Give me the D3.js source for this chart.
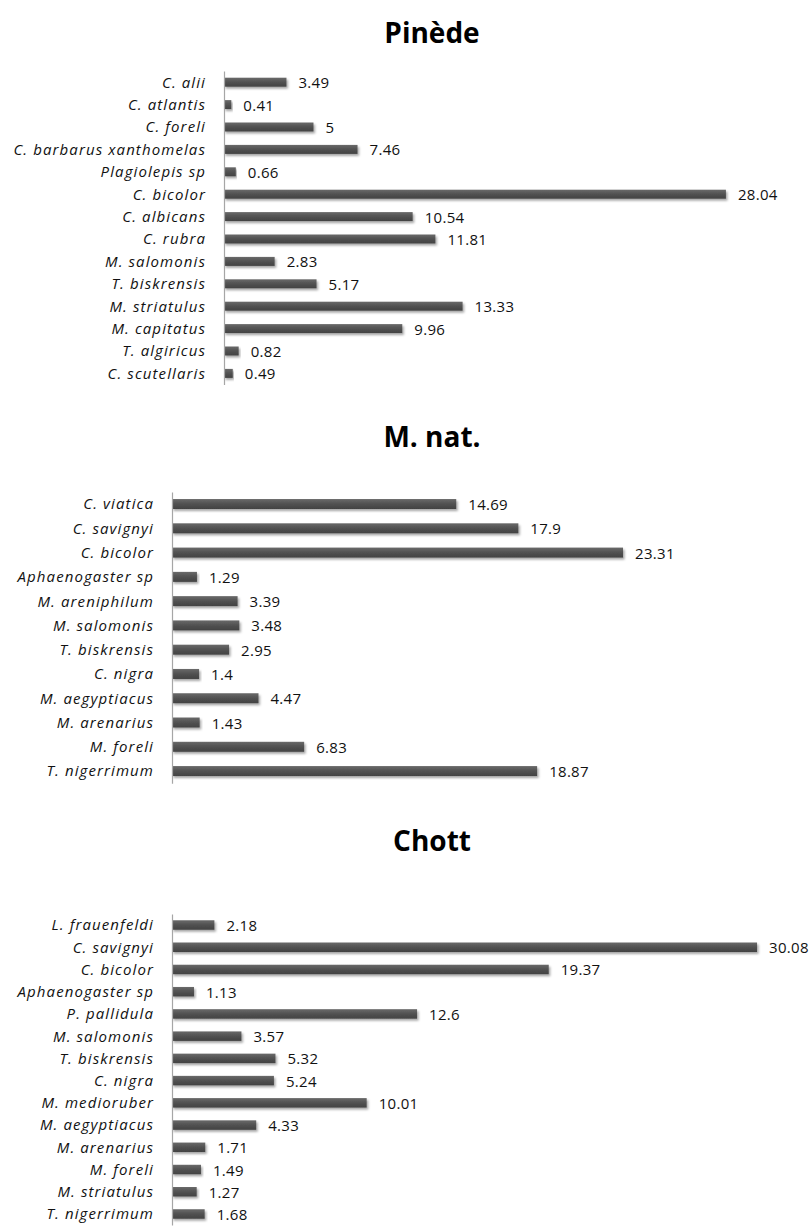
<!DOCTYPE html>
<html>
<head>
<meta charset="utf-8">
<script src="https://cdn.jsdelivr.net/npm/d3@7"></script>
<style>
  html, body { margin: 0; padding: 0; background: #fff; }
  svg { display: block; }
</style>
</head>
<body>
<script>
// Species frequencies (%) per habitat
const pinedeSpecies = ["C. alii", "C. atlantis", "C. foreli", "C. barbarus xanthomelas", "Plagiolepis sp",
  "C. bicolor", "C. albicans", "C. rubra", "M. salomonis", "T. biskrensis", "M. striatulus",
  "M. capitatus", "T. algiricus", "C. scutellaris"];
const pinedeValues = [3.49, 0.41, 5, 7.46, 0.66, 28.04, 10.54, 11.81, 2.83, 5.17, 13.33, 9.96, 0.82, 0.49];

const mnatSpecies = ["C. viatica", "C. savignyi", "C. bicolor", "Aphaenogaster sp", "M. areniphilum",
  "M. salomonis", "T. biskrensis", "C. nigra", "M. aegyptiacus", "M. arenarius", "M. foreli", "T. nigerrimum"];
const mnatValues = [14.69, 17.9, 23.31, 1.29, 3.39, 3.48, 2.95, 1.4, 4.47, 1.43, 6.83, 18.87];

const chottSpecies = ["L. frauenfeldi", "C. savignyi", "C. bicolor", "Aphaenogaster sp", "P. pallidula",
  "M. salomonis", "T. biskrensis", "C. nigra", "M. medioruber", "M. aegyptiacus", "M. arenarius",
  "M. foreli", "M. striatulus", "T. nigerrimum"];
const chottValues = [2.18, 30.08, 19.37, 1.13, 12.6, 3.57, 5.32, 5.24, 10.01, 4.33, 1.71, 1.49, 1.27, 1.68];

const panelTitles = ["Pinède", "M. nat.", "Chott"];

// Panel geometry
const panels = [
  { title: panelTitles[0], cats: pinedeSpecies, vals: pinedeValues, x0: 224, xMax: 30, x1: 224 + 30 * 17.9,
    y0: 71, y1: 384.6, titleY: 43, barH: 9 },
  { title: panelTitles[1], cats: mnatSpecies, vals: mnatValues, x0: 172, xMax: 25, x1: 172 + 25 * 19.35,
    y0: 491.9, y1: 783.2, titleY: 447, barH: 10 },
  { title: panelTitles[2], cats: chottSpecies, vals: chottValues, x0: 172, xMax: 30, x1: 172 + 30 * 19.45,
    y0: 913.9, y1: 1225.1, titleY: 851, barH: 9.5 }
];

const W = 812, H = 1227;
const svg = d3.select("body").append("svg").attr("width", W).attr("height", H);
svg.append("rect").attr("width", W).attr("height", H).attr("fill", "#fff");

const defs = svg.append("defs");
const grad = defs.append("linearGradient").attr("id", "barGrad")
  .attr("x1", 0).attr("y1", 0).attr("x2", 0).attr("y2", 1);
grad.append("stop").attr("offset", "0%").attr("stop-color", "#6a6a6a");
grad.append("stop").attr("offset", "45%").attr("stop-color", "#535353");
grad.append("stop").attr("offset", "100%").attr("stop-color", "#424242");

const shadow = defs.append("filter").attr("id", "barShadow")
  .attr("x", "-5%").attr("y", "-50%").attr("width", "115%").attr("height", "250%");
shadow.append("feDropShadow").attr("dx", 1.5).attr("dy", 2).attr("stdDeviation", 1.2)
  .attr("flood-color", "#000").attr("flood-opacity", 0.35);

const titleCenter = 432;

panels.forEach(p => {
  const g = svg.append("g");

  const x = d3.scaleLinear().domain([0, p.xMax]).range([p.x0, p.x1]);
  const y = d3.scaleBand().domain(p.cats).range([p.y0, p.y1]);
  const rows = p.cats.map((c, i) => ({ cat: c, val: p.vals[i] }));

  // title
  g.append("text")
    .attr("x", titleCenter).attr("y", p.titleY)
    .attr("text-anchor", "middle")
    .attr("font-family", "'Open Sans', sans-serif")
    .attr("font-weight", "bold")
    .attr("font-size", 28)
    .attr("fill", "#000")
    .text(p.title);

  // bars
  g.selectAll("rect.bar").data(rows).join("rect")
    .attr("class", "bar")
    .attr("x", x(0))
    .attr("y", d => y(d.cat) + y.bandwidth() / 2 - p.barH / 2)
    .attr("width", d => x(d.val) - x(0))
    .attr("height", p.barH)
    .attr("fill", "url(#barGrad)")
    .attr("filter", "url(#barShadow)");

  // value labels
  g.selectAll("text.val").data(rows).join("text")
    .attr("class", "val")
    .attr("x", d => x(d.val) + 12)
    .attr("y", d => y(d.cat) + y.bandwidth() / 2 + 6)
    .attr("font-family", "'Open Sans', sans-serif")
    .attr("font-size", 15)
    .attr("letter-spacing", 0.3)
    .attr("fill", "#111")
    .text(d => String(d.val));

  // category axis
  const axis = g.append("g")
    .attr("transform", `translate(${x(0)},0)`)
    .call(d3.axisLeft(y).tickSize(0).tickSizeOuter(0).tickPadding(18));
  axis.select(".domain").attr("stroke", "#a6a6a6").attr("stroke-width", 1.2);
  axis.selectAll(".tick text")
    .attr("font-family", "'Open Sans', sans-serif")
    .attr("font-style", "italic")
    .attr("font-size", 15)
    .attr("letter-spacing", 1.1)
    .attr("fill", "#111")
    .attr("dy", "0.36em");
});
</script>
</body>
</html>
